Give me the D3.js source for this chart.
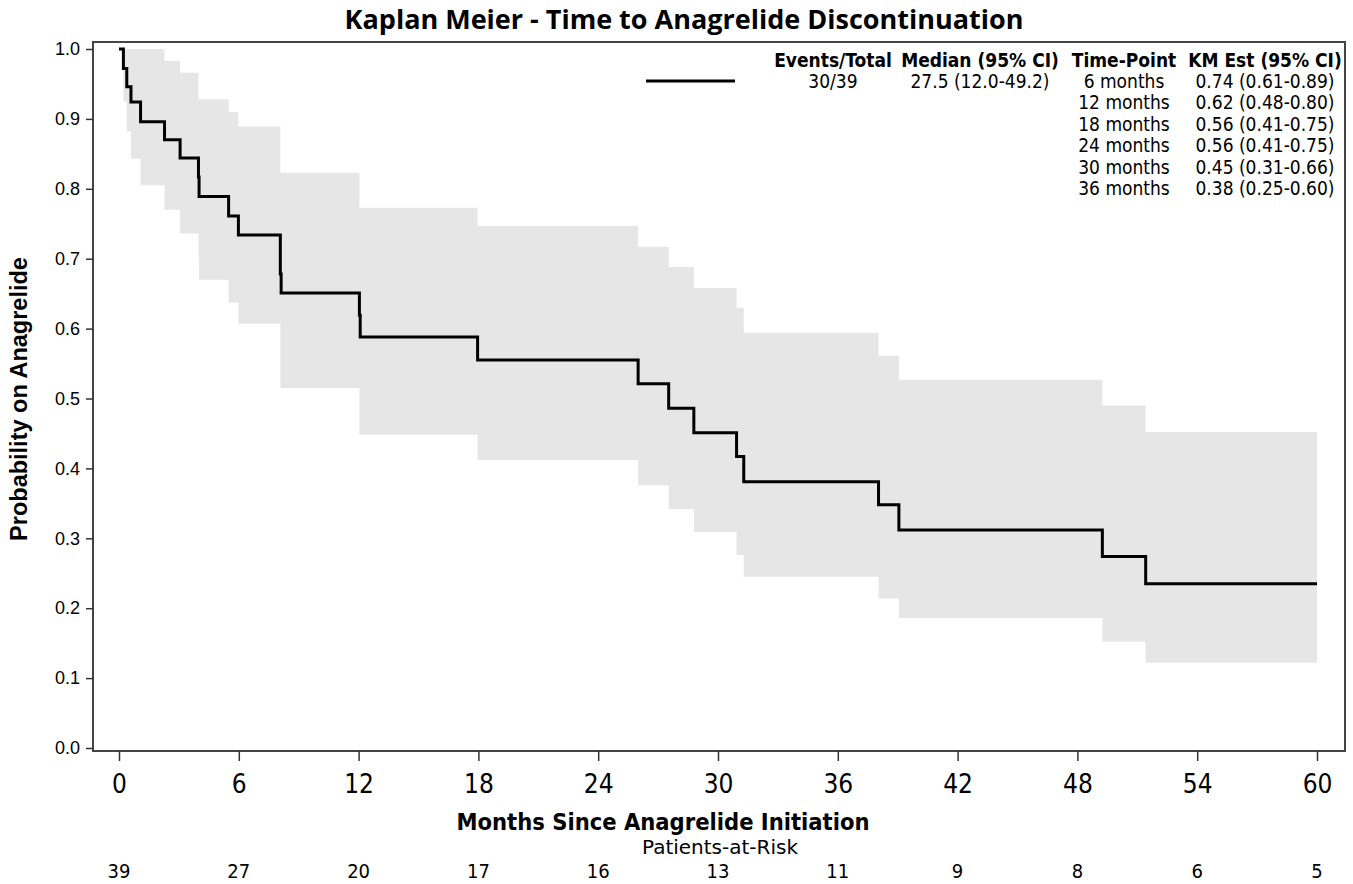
<!DOCTYPE html>
<html>
<head>
<meta charset="utf-8">
<script src="https://cdn.jsdelivr.net/npm/d3@7"></script>
<style>
  body { margin: 0; background: #fff; }
  .narrow { font-family: "DejaVu Sans Condensed", "DejaVu Sans", sans-serif; font-stretch: condensed; }
  .plain { font-family: "DejaVu Sans", sans-serif; }
  .wide { font-family: "Liberation Sans", Arial, sans-serif; }
  .y-axis path, .x-axis path { display: none; }
  .y-axis line, .x-axis line { stroke: #333; stroke-width: 1.5; }
</style>
</head>
<body>
<div class="chart"></div>
<script>
// KM step times (months) and estimates
var eventMonths = [0.22, 0.39, 0.60, 1.08, 2.28, 3.06, 3.98, 4.01, 5.49, 5.98, 8.08, 8.12,
  12.04, 12.08, 17.96, 26.0, 27.53, 28.79, 30.93, 31.29, 38.04, 39.06, 49.25, 51.42];
var survival = [0.972, 0.946, 0.924, 0.896, 0.870, 0.844, 0.817, 0.789, 0.761, 0.734, 0.678, 0.651,
  0.619, 0.588, 0.555, 0.521, 0.486, 0.451, 0.417, 0.381, 0.348, 0.312, 0.274, 0.235];
var upperCI = [1.0, 1.0, 1.0, 1.0, 0.983, 0.966, 0.928, 0.928, 0.910, 0.889, 0.823, 0.823,
  0.773, 0.773, 0.747, 0.717, 0.688, 0.658, 0.630, 0.594, 0.561, 0.527, 0.490, 0.452];
var lowerCI = [0.925, 0.882, 0.843, 0.805, 0.770, 0.736, 0.702, 0.670, 0.637, 0.607, 0.515, 0.515,
  0.448, 0.448, 0.412, 0.376, 0.342, 0.309, 0.276, 0.245, 0.214, 0.186, 0.152, 0.122];
var endMonth = 60;

var xTicks = [0, 6, 12, 18, 24, 30, 36, 42, 48, 54, 60];
var atRisk = [39, 27, 20, 17, 16, 13, 11, 9, 8, 6, 5];
var yTicks = [0, 0.1, 0.2, 0.3, 0.4, 0.5, 0.6, 0.7, 0.8, 0.9, 1.0];

// legend table
var legendHeaders = ["Events/Total", "Median (95% CI)", "Time-Point", "KM Est (95% CI)"];
var eventsTotal = "30/39";
var medianCI = "27.5 (12.0-49.2)";
var timePoints = ["6 months", "12 months", "18 months", "24 months", "30 months", "36 months"];
var kmEst = ["0.74 (0.61-0.89)", "0.62 (0.48-0.80)", "0.56 (0.41-0.75)", "0.56 (0.41-0.75)",
  "0.45 (0.31-0.66)", "0.38 (0.25-0.60)"];

var svgWidth = 1353, svgHeight = 884;
var frame = { left: 93, top: 42, right: 1345, bottom: 751 };

var svg = d3.select(".chart").append("svg")
  .attr("width", svgWidth)
  .attr("height", svgHeight);

var x = d3.scaleLinear().domain([0, 60]).range([119, 1317]);
var y = d3.scaleLinear().domain([0, 1]).range([748, 49]);

// confidence band
var bandPts = eventMonths.map(function(t, i) { return { t: t, lo: lowerCI[i], hi: upperCI[i] }; });
bandPts.push({ t: endMonth, lo: lowerCI[lowerCI.length - 1], hi: upperCI[upperCI.length - 1] });

var area = d3.area()
  .curve(d3.curveStepAfter)
  .x(d => x(d.t))
  .y0(d => y(d.lo))
  .y1(d => y(d.hi));

svg.append("path")
  .datum(bandPts)
  .attr("d", area)
  .attr("fill", "#e6e6e6");

// KM curve
var curvePts = [{ t: 0, s: 1 }];
eventMonths.forEach(function(t, i) { curvePts.push({ t: t, s: survival[i] }); });
curvePts.push({ t: endMonth, s: survival[survival.length - 1] });

var line = d3.line()
  .curve(d3.curveStepAfter)
  .x(d => x(d.t))
  .y(d => y(d.s));

svg.append("path")
  .datum(curvePts)
  .attr("d", line)
  .attr("fill", "none")
  .attr("stroke", "#000")
  .attr("stroke-width", 3);

// frame
svg.append("rect")
  .attr("x", frame.left)
  .attr("y", frame.top)
  .attr("width", frame.right - frame.left)
  .attr("height", frame.bottom - frame.top)
  .attr("fill", "none")
  .attr("stroke", "#444")
  .attr("stroke-width", 2);

// axes
var yAxis = svg.append("g")
  .attr("class", "y-axis")
  .attr("transform", `translate(${frame.left}, 0)`)
  .call(d3.axisLeft(y).tickValues(yTicks).tickFormat(d3.format(".1f")).tickSize(7).tickPadding(6));
yAxis.selectAll("text").attr("font-size", 18).attr("fill", "#000")
  .attr("font-family", "Liberation Sans, Arial, sans-serif");

var xAxis = svg.append("g")
  .attr("class", "x-axis")
  .attr("transform", `translate(0, ${frame.bottom})`)
  .call(d3.axisBottom(x).tickValues(xTicks).tickSize(10).tickPadding(14));
xAxis.selectAll("text").attr("font-size", 26).attr("fill", "#000")
  .attr("class", "narrow");

// titles
svg.append("text")
  .attr("x", 684).attr("y", 29)
  .attr("text-anchor", "middle")
  .attr("font-family", "Open Sans, Liberation Sans, sans-serif")
  .attr("font-size", 27).attr("font-weight", "bold")
  .text("Kaplan Meier - Time to Anagrelide Discontinuation");

svg.append("text")
  .attr("class", "wide")
  .attr("transform", "translate(27, 399) rotate(-90)")
  .attr("text-anchor", "middle")
  .attr("font-size", 23.5).attr("font-weight", "bold")
  .text("Probability on Anagrelide");

svg.append("text")
  .attr("class", "narrow")
  .attr("x", 663).attr("y", 830)
  .attr("text-anchor", "middle")
  .attr("font-size", 23.5).attr("font-weight", "bold")
  .text("Months Since Anagrelide Initiation");

svg.append("text")
  .attr("class", "plain")
  .attr("x", 720).attr("y", 854)
  .attr("text-anchor", "middle")
  .attr("font-size", 20)
  .text("Patients-at-Risk");

// patients at risk row
svg.append("g").selectAll("text")
  .data(atRisk)
  .enter()
  .append("text")
  .attr("class", "narrow")
  .attr("x", (d, i) => x(xTicks[i]))
  .attr("y", 878)
  .attr("text-anchor", "middle")
  .attr("font-size", 20)
  .text(d => d);

// legend table
var legend = svg.append("g").attr("class", "narrow");
legend.append("line")
  .attr("x1", 646).attr("x2", 735)
  .attr("y1", 81).attr("y2", 81)
  .attr("stroke", "#000").attr("stroke-width", 3);

var colX = [833, 980, 1124, 1265];
legend.selectAll(".hdr")
  .data(legendHeaders)
  .enter()
  .append("text")
  .attr("class", "hdr")
  .attr("x", (d, i) => colX[i])
  .attr("y", 67)
  .attr("text-anchor", "middle")
  .attr("font-size", 19).attr("font-weight", "bold")
  .text(d => d);

var rowY = d3.scaleLinear().domain([0, 5]).range([88, 195]);
legend.append("text")
  .attr("x", colX[0]).attr("y", rowY(0))
  .attr("text-anchor", "middle").attr("font-size", 19)
  .text(eventsTotal);
legend.append("text")
  .attr("x", colX[1]).attr("y", rowY(0))
  .attr("text-anchor", "middle").attr("font-size", 19)
  .text(medianCI);
legend.selectAll(".tp")
  .data(timePoints)
  .enter()
  .append("text")
  .attr("class", "tp")
  .attr("x", colX[2])
  .attr("y", (d, i) => rowY(i))
  .attr("text-anchor", "middle").attr("font-size", 19)
  .text(d => d);
legend.selectAll(".km")
  .data(kmEst)
  .enter()
  .append("text")
  .attr("class", "km")
  .attr("x", colX[3])
  .attr("y", (d, i) => rowY(i))
  .attr("text-anchor", "middle").attr("font-size", 19)
  .text(d => d);
</script>
</body>
</html>
